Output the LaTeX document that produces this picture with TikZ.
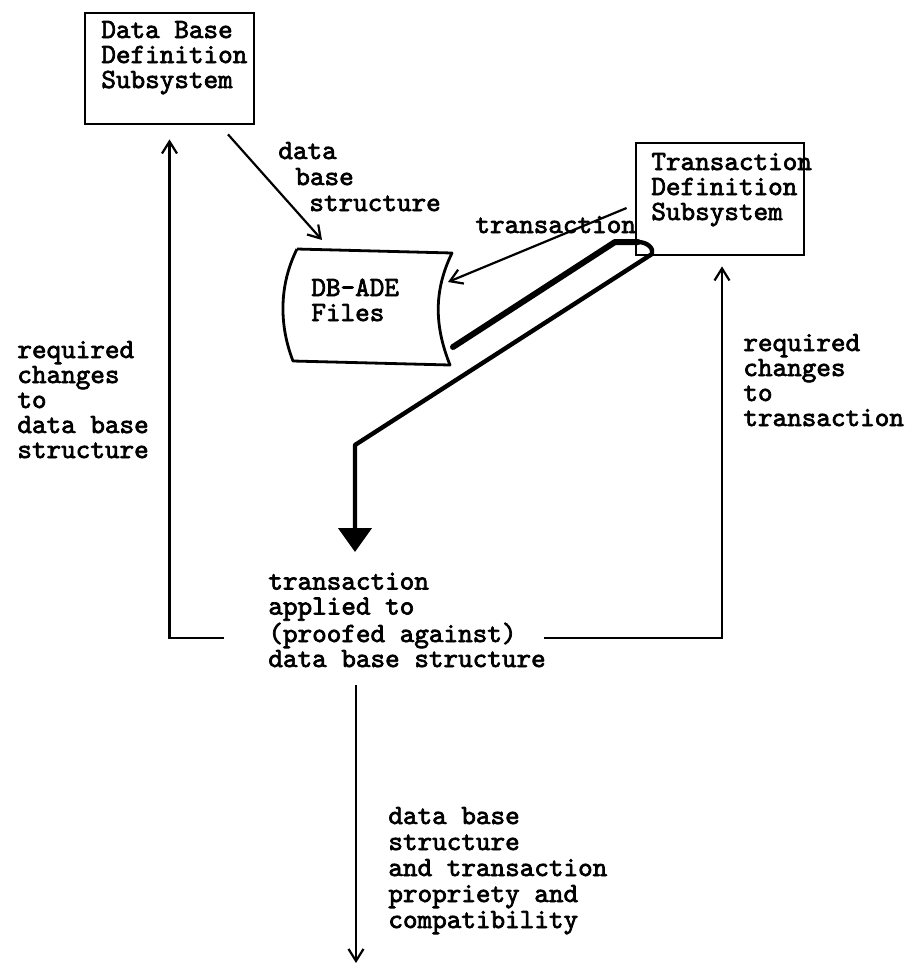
\documentclass[tikz,border=0pt]{standalone}
\usepackage{fontspec}
\usetikzlibrary{arrows.meta}
\newfontfamily\tw[FakeBold=2.5]{lmmono10-regular.otf}
\begin{document}
\begin{tikzpicture}[x=0.5pt,y=-0.5pt,
  box/.style={draw, line width=1.4pt, inner sep=0pt},
  txt/.style={font=\tw\fontsize{13.9}{12.5}\selectfont, align=left, inner sep=0pt, anchor=base west},
  conn/.style={line width=1.1pt, -{Straight Barb[length=6pt,width=7.5pt,line width=1.1pt]}},
  flow/.style={line width=2.2pt, line join=round}]
\path[use as bounding box] (0,0) rectangle (918,966);

% subsystem boxes (text nodes are placed by the baseline of their last line)
\node[box, minimum width=84.5pt, minimum height=55.5pt] (dbdef) at (169.5,68.5) {};
\node[txt] (dbdeftxt) at (101,88) {Data Base\\Definition\\Subsystem};
\node[box, minimum width=84pt, minimum height=56pt] (tds) at (720,199) {};
\node[txt] (tdstxt) at (651,220) {Transaction\\Definition\\Subsystem};

% file symbol
\coordinate (f1) at (297,249);
\coordinate (f2) at (452,253);
\coordinate (f3) at (450,365);
\coordinate (f4) at (293,361);
\draw[line width=1.4pt, line join=round]
  (f1) -- (f2) .. controls (434,290) and (434,325) .. (f3)
  -- (f4) .. controls (279,325) and (279,285) .. (f1);
\node[txt] (files) at (311,321) {DB-ADE\\Files};

% structure flows into the files
\draw[conn] ([shift={(58.5,9)}]dbdef.south) -- ([shift={(25,-9)}]f1);
\node[txt, font=\tw\fontsize{13.9}{13}\selectfont] (dbslbl) at (278,211) {data\\\hspace*{8.5pt}base\\\hspace*{15.5pt}structure};

% transaction flows into the files
\node[txt] (translbl) at (475,233) {transaction};
\draw[conn] ([shift={(-8,9)}]tds.west) -- ([shift={(-4,29)}]f2);

% heavy flow from the files and the transaction subsystem down to the proof step
\coordinate (t1) at (453,347);
\coordinate (t2) at (615,242);
\coordinate (t3) at (638,242);
\coordinate (t4) at (652,254);
\coordinate (t5) at (355,445);
\coordinate (t6) at (355,552);
\draw[line width=3pt, line cap=round, line join=round] (t1) -- (t2) -- (t3);
\draw[flow, -{Triangle[length=12pt,width=16.5pt]}]
  (t3) .. controls (647,242) and (654,248) .. (t4) -- (t5) -- (t6);

% proof step
\node[txt] (proof) at (268,667) {transaction\\applied to\\(proofed against)\\data base structure};

% feedback loops
\coordinate (pl) at (224,638);
\coordinate (pr) at (544,638);
\draw[conn] (pl) -| ([shift={(0,14)}]dbdef.south);
\draw[conn] (pr) -| ([shift={(2,10)}]tds.south);
\node[txt] (lreq) at (17,458) {required\\changes\\to\\data base\\structure};
\node[txt] (rreq) at (743,426) {required\\changes\\to\\transaction};

% result
\coordinate (dn) at (356,685);
\coordinate (out) at (356,963);
\draw[conn] (dn) -- (out);
\node[txt, font=\tw\fontsize{13.9}{13}\selectfont] (res) at (388,928) {data base\\structure\\and transaction\\propriety and\\compatibility};
\end{tikzpicture}
\end{document}
